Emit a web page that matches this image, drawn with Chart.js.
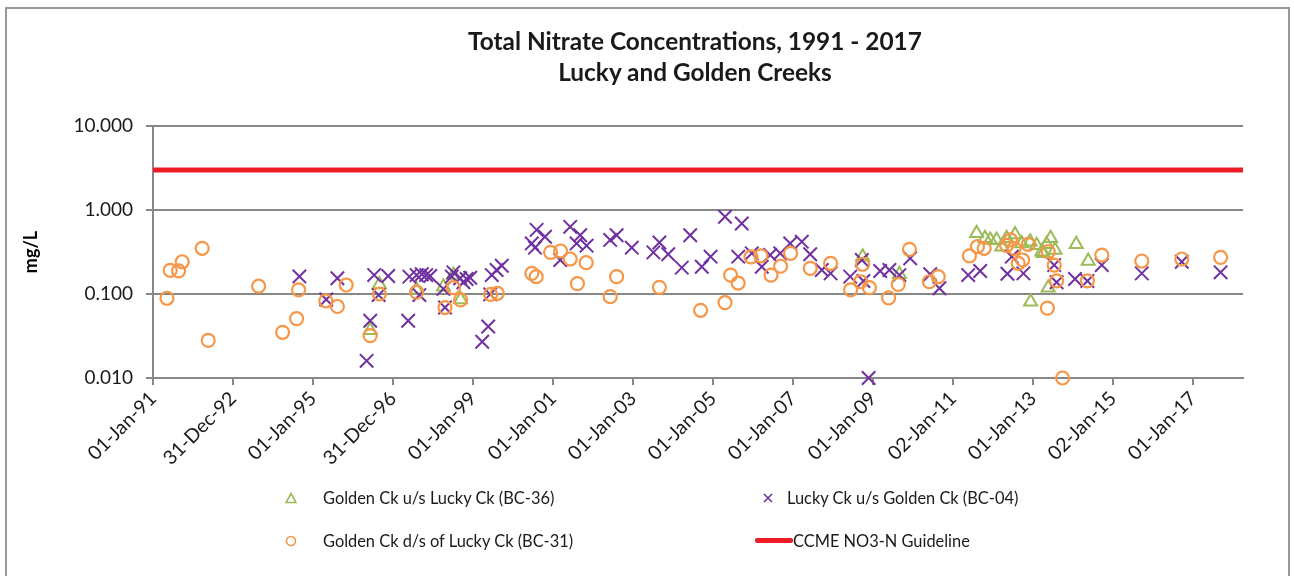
<!DOCTYPE html>
<html><head><meta charset="utf-8">
<script src="https://cdn.jsdelivr.net/npm/chart.js@4.4.1/dist/chart.umd.min.js"></script>
<style>
html,body{margin:0;padding:0;background:#fff;}
#wrap{position:relative;width:1294px;height:576px;overflow:hidden;font-family:Lato,'Open Sans',sans-serif;}
#frame{position:absolute;left:5px;top:7px;width:1285px;height:600px;border:2px solid #999;box-sizing:border-box;}
canvas{position:absolute;left:0;top:0;}
.ttl{position:absolute;left:345px;width:700px;text-align:center;font-size:24.4px;font-weight:bold;color:#1a1a1a;white-space:nowrap;line-height:30px;transform:translateY(-50%);}
.lt{position:absolute;font-size:16.4px;color:#1a1a1a;white-space:nowrap;line-height:20px;transform:translateY(-50%);}
.lm{position:absolute;}
</style></head>
<body><div id="wrap"><div id="frame"></div><canvas id="c" width="1294" height="576"></canvas>
<div class="ttl" style="top:41px">Total Nitrate Concentrations, 1991 - 2017</div>
<div class="ttl" style="top:72px">Lucky and Golden Creeks</div>
<svg class="lm" style="left:285px;top:492px" width="12" height="12"><polygon points="6,1.5 11,10.5 1,10.5" fill="none" stroke="#9BBB59" stroke-width="1.6"/></svg>
<div class="lt" style="left:323px;top:498px">Golden Ck u/s Lucky Ck (BC-36)</div>
<svg class="lm" style="left:762px;top:492px" width="12" height="12"><path d="M2,2 L10,10 M10,2 L2,10" stroke="#7030A0" stroke-width="1.6"/></svg>
<div class="lt" style="left:787px;top:498px">Lucky Ck u/s Golden Ck (BC-04)</div>
<svg class="lm" style="left:285px;top:535px" width="12" height="12"><circle cx="6" cy="6" r="4.5" fill="none" stroke="#F79646" stroke-width="1.6"/></svg>
<div class="lt" style="left:323px;top:541px">Golden Ck d/s of Lucky Ck (BC-31)</div>
<div class="lm" style="left:755px;top:538px;width:38px;height:5px;background:#EE1C25;border-radius:2px"></div>
<div class="lt" style="left:793px;top:541px">CCME NO3-N Guideline</div>
</div>
<script>
// ---- data (decimal years, mg/L) ----
const bc36Years = [1996.43, 1996.66, 1997.59, 1998.26, 1998.51, 1998.69, 2008.74, 2009.66, 2011.59, 2011.80, 2011.93, 2012.09, 2012.22, 2012.34, 2012.55, 2012.72, 2012.93, 2012.94, 2013.09, 2013.22, 2013.26, 2013.34, 2013.38, 2013.44, 2013.55, 2014.08, 2014.38];
const bc36Values = [0.037, 0.130, 0.112, 0.122, 0.168, 0.086, 0.278, 0.172, 0.53, 0.46, 0.44, 0.44, 0.366, 0.46, 0.51, 0.40, 0.42, 0.081, 0.38, 0.319, 0.305, 0.39, 0.119, 0.46, 0.334, 0.39, 0.247];

const bc04Years = [1994.66, 1995.33, 1995.61, 1996.34, 1996.43, 1996.53, 1996.64, 1996.88, 1997.38, 1997.41, 1997.59, 1997.66, 1997.72, 1997.83, 1997.93, 1998.26, 1998.30, 1998.47, 1998.51, 1998.68, 1998.76, 1998.84, 1998.93, 1999.23, 1999.38, 1999.43, 1999.47, 1999.59, 1999.72, 2000.47, 2000.55, 2000.59, 2000.80, 2001.18, 2001.43, 2001.59, 2001.68, 2001.84, 2002.43, 2002.59, 2002.97, 2003.51, 2003.66, 2003.88, 2004.22, 2004.43, 2004.72, 2004.94, 2005.30, 2005.63, 2005.72, 2005.97, 2006.22, 2006.43, 2006.68, 2006.93, 2007.22, 2007.43, 2007.72, 2007.94, 2008.43, 2008.72, 2008.76, 2008.89, 2009.18, 2009.41, 2009.66, 2009.93, 2010.43, 2010.66, 2011.38, 2011.68, 2012.36, 2012.47, 2012.76, 2013.53, 2013.59, 2014.05, 2014.36, 2014.72, 2015.72, 2016.72, 2017.69];
const bc04Values = [0.162, 0.086, 0.154, 0.016, 0.048, 0.168, 0.097, 0.164, 0.048, 0.161, 0.168, 0.097, 0.172, 0.168, 0.164, 0.115, 0.069, 0.161, 0.181, 0.154, 0.138, 0.151, 0.156, 0.027, 0.041, 0.099, 0.168, 0.193, 0.217, 0.40, 0.356, 0.58, 0.48, 0.254, 0.63, 0.40, 0.50, 0.376, 0.44, 0.50, 0.356, 0.313, 0.41, 0.297, 0.206, 0.50, 0.211, 0.278, 0.83, 0.278, 0.69, 0.305, 0.211, 0.291, 0.305, 0.40, 0.42, 0.297, 0.193, 0.176, 0.161, 0.254, 0.143, 0.010, 0.188, 0.193, 0.168, 0.266, 0.172, 0.117, 0.168, 0.188, 0.174, 0.278, 0.176, 0.221, 0.138, 0.151, 0.143, 0.221, 0.176, 0.242, 0.181];

const bc31Years = [1991.35, 1991.43, 1991.64, 1991.73, 1992.23, 1992.38, 1993.64, 1994.24, 1994.59, 1994.64, 1995.32, 1995.61, 1995.83, 1996.43, 1996.66, 1997.59, 1998.30, 1998.51, 1998.69, 1999.44, 1999.61, 2000.47, 2000.58, 2000.94, 2001.19, 2001.43, 2001.61, 2001.83, 2002.43, 2002.59, 2003.66, 2004.69, 2005.30, 2005.44, 2005.63, 2005.95, 2006.20, 2006.45, 2006.69, 2006.94, 2007.43, 2007.94, 2008.44, 2008.69, 2008.74, 2008.91, 2009.39, 2009.63, 2009.91, 2010.41, 2010.63, 2011.41, 2011.61, 2011.78, 2012.34, 2012.44, 2012.53, 2012.63, 2012.74, 2012.88, 2013.36, 2013.38, 2013.53, 2013.59, 2013.74, 2014.36, 2014.72, 2015.72, 2016.72, 2017.69];
const bc31Values = [0.089, 0.191, 0.188, 0.242, 0.35, 0.028, 0.124, 0.035, 0.051, 0.112, 0.083, 0.071, 0.128, 0.032, 0.100, 0.105, 0.069, 0.119, 0.085, 0.099, 0.102, 0.176, 0.161, 0.313, 0.325, 0.261, 0.133, 0.236, 0.093, 0.161, 0.120, 0.064, 0.079, 0.168, 0.135, 0.276, 0.284, 0.168, 0.214, 0.305, 0.202, 0.232, 0.112, 0.140, 0.226, 0.119, 0.090, 0.130, 0.34, 0.140, 0.161, 0.284, 0.366, 0.35, 0.38, 0.44, 0.35, 0.232, 0.254, 0.39, 0.068, 0.319, 0.221, 0.143, 0.010, 0.143, 0.291, 0.247, 0.261, 0.273];

const guidelineValue = [3.0];

const xTickYears = [1991, 1993, 1995, 1997, 1999, 2001, 2003, 2005, 2007, 2009, 2011, 2013, 2015, 2017];
const xTickLabels = ['01-Jan-91', '31-Dec-92', '01-Jan-95', '31-Dec-96', '01-Jan-99', '01-Jan-01', '01-Jan-03', '01-Jan-05', '01-Jan-07', '01-Jan-09', '02-Jan-11', '01-Jan-13', '02-Jan-15', '01-Jan-17'];
const yTickValues = [0.01, 0.1, 1, 10];
const xRange = [1991, 2018.25];
const yRange = [0.01, 10];

const pts = (xs, ys) => xs.map((x, i) => ({x: x, y: ys[i]}));
const FONT = 'Lato, "Open Sans", sans-serif';
const GRID = '#878787';

function draw() {
  Chart.defaults.font.family = FONT;
  new Chart(document.getElementById('c'), {
    type: 'scatter',
    data: {
      datasets: [
        {label: 'Golden Ck u/s Lucky Ck (BC-36)', data: pts(bc36Years, bc36Values), pointStyle: 'triangle', pointRadius: 7.5,
         borderColor: '#9BBB59', backgroundColor: 'rgba(0,0,0,0)', pointBorderWidth: 2, order: 4, clip: false},
        {label: 'Lucky Ck u/s Golden Ck (BC-04)', data: pts(bc04Years, bc04Values), pointStyle: 'crossRot', pointRadius: 9.5,
         borderColor: '#7030A0', backgroundColor: '#7030A0', pointBorderWidth: 2, order: 3, clip: false},
        {label: 'Golden Ck d/s of Lucky Ck (BC-31)', data: pts(bc31Years, bc31Values), pointStyle: 'circle', pointRadius: 6.5,
         borderColor: '#F79646', backgroundColor: 'rgba(0,0,0,0)', pointBorderWidth: 2.2, order: 2, clip: false},
        {type: 'line', label: 'CCME NO3-N Guideline', data: xRange.map(x => ({x: x, y: guidelineValue[0]})),
         borderColor: '#EE1C25', borderWidth: 5, pointRadius: 0, showLine: true, order: 1}
      ]
    },
    options: {
      responsive: false, animation: false, events: [],
      layout: {padding: {left: 0, right: 51, top: 126, bottom: 0}},
      plugins: {legend: {display: false}, tooltip: {enabled: false}, title: {display: false}},
      scales: {
        x: {
          type: 'linear', min: xRange[0], max: xRange[1],
          afterBuildTicks: s => { s.ticks = xTickYears.map(v => ({value: v})); },
          afterFit: s => { s.height = 198; },
          ticks: {callback: (v, i) => xTickLabels[i], minRotation: 45, maxRotation: 45, autoSkip: false,
                  font: {size: 19.5}, color: '#1a1a1a', padding: 2},
          grid: {drawOnChartArea: false, drawTicks: true, tickLength: 7, color: GRID, lineWidth: 2},
          border: {display: true, color: GRID, width: 2}
        },
        y: {
          type: 'logarithmic', min: yRange[0], max: yRange[1],
          afterBuildTicks: s => { s.ticks = yTickValues.map(v => ({value: v})); },
          afterFit: s => { s.width = 153; },
          ticks: {callback: v => Number(v).toFixed(3), font: {size: 19}, color: '#1a1a1a', padding: 13, autoSkip: false},
          grid: {color: GRID, lineWidth: 2, tickLength: 7, drawTicks: true},
          border: {display: true, color: GRID, width: 2},
          title: {display: true, text: 'mg/L', font: {size: 18, weight: 'bold'}, color: '#000', padding: {top: 20, bottom: 0}}
        }
      }
    }
  });
}
if (document.fonts && document.fonts.load) {
  Promise.all([document.fonts.load('18px Lato'), document.fonts.load('bold 22px Lato')]).then(draw, draw);
} else { draw(); }
</script>
</body></html>
